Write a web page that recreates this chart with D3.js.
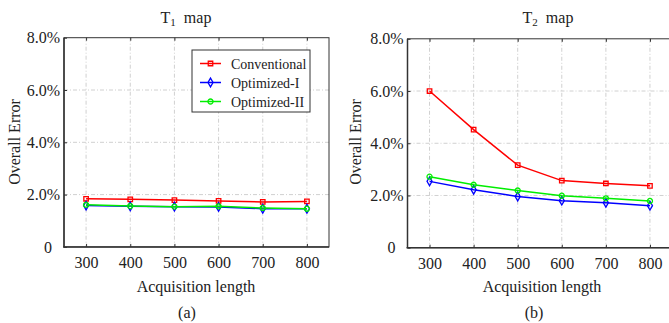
<!DOCTYPE html>
<html>
<head>
<meta charset="utf-8">
<script src="https://cdn.jsdelivr.net/npm/d3@7"></script>
<style>
  html, body { margin: 0; padding: 0; background: #fff; }
  svg text { font-family: "Liberation Serif", "Times New Roman", serif !important; }
</style>
</head>
<body>
<div id="chart"></div>
<script>
// data
const lengths = [300, 400, 500, 600, 700, 800];
const seriesNames = ['Conventional', 'Optimized-I', 'Optimized-II'];
const yTicks = [0, 2, 4, 6, 8];
const xTicks = [300, 400, 500, 600, 700, 800];

const t1Conventional = [1.84, 1.82, 1.79, 1.76, 1.72, 1.74];
const t1OptimizedI   = [1.58, 1.55, 1.54, 1.53, 1.46, 1.46];
const t1OptimizedII  = [1.61, 1.56, 1.54, 1.55, 1.49, 1.46];

const t2Conventional = [6.00, 4.52, 3.16, 2.57, 2.46, 2.37];
const t2OptimizedI   = [2.54, 2.22, 1.96, 1.80, 1.72, 1.61];
const t2OptimizedII  = [2.72, 2.41, 2.19, 1.99, 1.89, 1.79];

const colors = ['#ff0000', '#0000ff', '#00ee00'];
const markers = [d3.symbolSquare, d3.symbolDiamond, d3.symbolCircle];

const width = 669, height = 323;
const svg = d3.select('#chart').append('svg')
  .attr('width', width)
  .attr('height', height);

function panel(opts) {
  const x = d3.scaleLinear().domain([250, 850]).range([opts.left, opts.right]);
  const y = d3.scaleLinear().domain([0, 8]).range([opts.bottom, opts.top]);
  const g = svg.append('g');

  // Grid
  g.append('g').selectAll('line')
    .data(xTicks)
    .join('line')
    .attr('x1', d => x(d)).attr('x2', d => x(d))
    .attr('y1', opts.top).attr('y2', opts.bottom)
    .attr('stroke', '#d0d0d0')
    .attr('stroke-dasharray', '4,2,1,2');
  g.append('g').selectAll('line')
    .data(yTicks.filter(d => d > 0 && d < 8))
    .join('line')
    .attr('x1', opts.left).attr('x2', opts.right)
    .attr('y1', d => y(d)).attr('y2', d => y(d))
    .attr('stroke', '#d0d0d0')
    .attr('stroke-dasharray', '4,2,1,2');

  // Frame
  g.append('rect')
    .attr('x', opts.left).attr('y', opts.top)
    .attr('width', opts.right - opts.left)
    .attr('height', opts.bottom - opts.top)
    .attr('fill', 'none')
    .attr('stroke', '#333')
    .attr('stroke-width', 1);
  g.append('line')
    .attr('x1', opts.left - 1).attr('x2', opts.right)
    .attr('y1', opts.bottom).attr('y2', opts.bottom)
    .attr('stroke', '#333').attr('stroke-width', 1.5);
  g.append('line')
    .attr('x1', opts.left).attr('x2', opts.left)
    .attr('y1', opts.top).attr('y2', opts.bottom)
    .attr('stroke', '#333').attr('stroke-width', 1.5);

  // Axes (ticks inside)
  const xAxis = d3.axisBottom(x).tickValues(xTicks).tickSizeInner(-3).tickSizeOuter(0).tickPadding(10);
  const gx = g.append('g').attr('transform', `translate(0,${opts.bottom})`).call(xAxis);
  gx.select('.domain').remove();
  gx.selectAll('line').attr('stroke', '#333');
  gx.selectAll('text').attr('font-size', 16).attr('fill', '#222');

  const gxTop = g.append('g').attr('transform', `translate(0,${opts.top})`)
    .call(d3.axisTop(x).tickValues(xTicks).tickSizeInner(-3).tickSizeOuter(0).tickFormat(''));
  gxTop.select('.domain').remove();
  gxTop.selectAll('line').attr('stroke', '#333');

  const yAxis = d3.axisLeft(y).tickValues(yTicks).tickSizeInner(-3).tickSizeOuter(0).tickPadding(4)
    .tickFormat(d => d === 0 ? '0' : d.toFixed(1) + '%');
  const gy = g.append('g').attr('transform', `translate(${opts.left},0)`).call(yAxis);
  gy.select('.domain').remove();
  gy.selectAll('line').attr('stroke', '#333');
  gy.selectAll('text').attr('font-size', 16).attr('fill', '#222')
    .attr('dx', d => d === 0 ? -8 : 0);

  // Series
  const line = d3.line().x((d, i) => x(lengths[i])).y(d => y(d));
  opts.series.forEach((vals, k) => {
    g.append('path')
      .datum(vals)
      .attr('d', line)
      .attr('fill', 'none')
      .attr('stroke', colors[k])
      .attr('stroke-width', 1.5);
    g.append('g').selectAll('path')
      .data(vals)
      .join('path')
      .attr('transform', (d, i) => `translate(${x(lengths[i])},${y(d)})`)
      .attr('d', d3.symbol().type(markers[k]).size(k === 1 ? 22 : 20))
      .attr('fill', 'none')
      .attr('stroke', colors[k])
      .attr('stroke-width', 1.3);
  });

  // Labels
  const title = svg.append('text')
    .attr('x', opts.titleX).attr('y', 23)
    .attr('text-anchor', 'middle')
    .attr('font-size', 16).attr('fill', '#222');
  title.append('tspan').text('T');
  title.append('tspan').attr('font-size', 11).attr('dy', 3).text(opts.sub);
  title.append('tspan').attr('dy', -3).attr('xml:space', 'preserve').text('  map');

  svg.append('text')
    .attr('x', opts.xLabelX).attr('y', 292)
    .attr('text-anchor', 'middle')
    .attr('font-size', 16).attr('fill', '#222')
    .text('Acquisition length');

  svg.append('text')
    .attr('transform', `translate(${opts.yLabelX},142) rotate(-90)`)
    .attr('text-anchor', 'middle')
    .attr('font-size', 16).attr('fill', '#222')
    .text('Overall Error');

  svg.append('text')
    .attr('x', opts.capX).attr('y', 318)
    .attr('text-anchor', 'middle')
    .attr('font-size', 16).attr('fill', '#222')
    .text(opts.caption);

  return { x, y, g };
}

panel({
  left: 64, right: 329, top: 37.7, bottom: 246.9,
  series: [t1Conventional, t1OptimizedI, t1OptimizedII],
  sub: '1', titleX: 186, xLabelX: 196, yLabelX: 20, capX: 187, caption: '(a)'
});

panel({
  left: 407.5, right: 672, top: 38.8, bottom: 247.7,
  series: [t2Conventional, t2OptimizedI, t2OptimizedII],
  sub: '2', titleX: 548, xLabelX: 542, yLabelX: 361, capX: 534, caption: '(b)'
});

// Legend (T1 panel)
const legend = svg.append('g');
legend.append('rect')
  .attr('x', 192).attr('y', 50)
  .attr('width', 118).attr('height', 62)
  .attr('fill', '#fff')
  .attr('stroke', '#333')
  .attr('stroke-width', 1);
seriesNames.forEach((name, k) => {
  const cy = 63.5 + k * 19;
  legend.append('line')
    .attr('x1', 200).attr('x2', 221)
    .attr('y1', cy).attr('y2', cy)
    .attr('stroke', colors[k]).attr('stroke-width', 1.5);
  legend.append('path')
    .attr('transform', `translate(210.5,${cy})`)
    .attr('d', d3.symbol().type(markers[k]).size(k === 1 ? 22 : 20))
    .attr('fill', 'none')
    .attr('stroke', colors[k]).attr('stroke-width', 1.3);
  legend.append('text')
    .attr('x', 231).attr('y', cy + 5)
    .attr('font-size', 14).attr('fill', '#222')
    .text(name);
});
</script>
</body>
</html>
